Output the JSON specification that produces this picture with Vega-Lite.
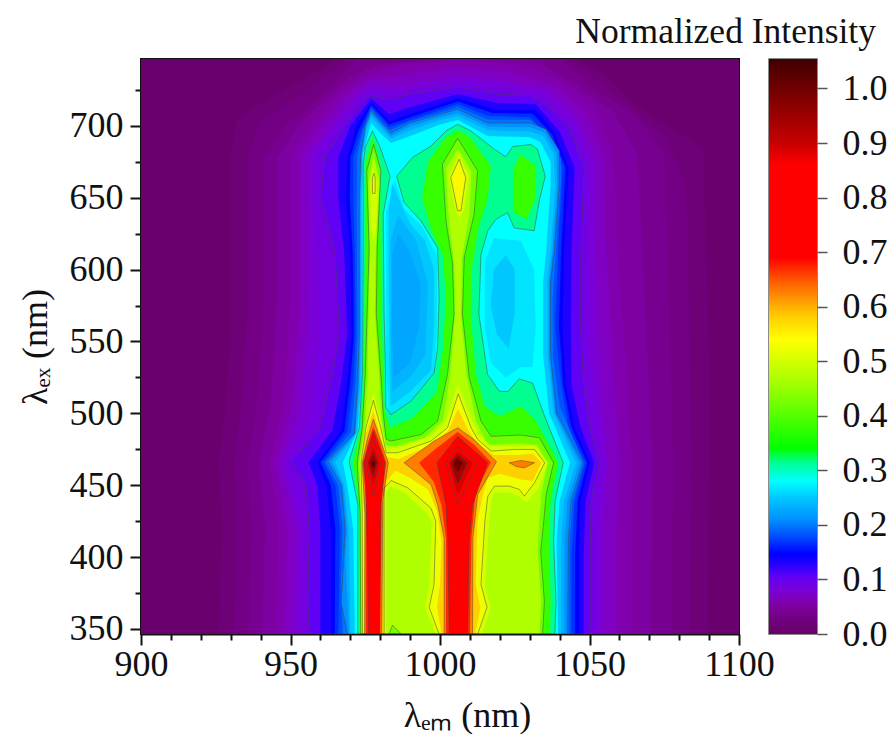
{"$schema":"https://vega.github.io/schema/vega-lite/v6.json","padding":{"left":16,"top":13,"right":0,"bottom":0},"background":"white","spacing":30,"bounds":"flush","config":{"font":"Liberation Serif"},"hconcat":[{"width":598,"height":575,"view":{"stroke":"#111","strokeWidth":2},"data":{"values":[
{"v":0.005,"r":1,"x":900,"y":346.5},{"v":0.005,"r":1,"x":1100,"y":346.5},{"v":0.005,"r":1,"x":1100,"y":746.5},{"v":0.005,"r":1,"x":900,"y":746.5},
{"v":0.02,"r":2,"x":926,"y":346.5},{"v":0.02,"r":2,"x":927,"y":420},{"v":0.02,"r":2,"x":926,"y":466},{"v":0.02,"r":2,"x":928,"y":500},{"v":0.02,"r":2,"x":930,"y":560},{"v":0.02,"r":2,"x":930,"y":680},{"v":0.02,"r":2,"x":932,"y":705},{"v":0.02,"r":2,"x":945,"y":722},{"v":0.02,"r":2,"x":958,"y":737},{"v":0.02,"r":2,"x":966,"y":746.5},{"v":0.02,"r":2,"x":1046,"y":746.5},{"v":0.02,"r":2,"x":1056,"y":735},{"v":0.02,"r":2,"x":1064,"y":717},{"v":0.02,"r":2,"x":1077,"y":699},{"v":0.02,"r":2,"x":1088,"y":685},{"v":0.02,"r":2,"x":1089,"y":620},{"v":0.02,"r":2,"x":1090,"y":540},{"v":0.02,"r":2,"x":1090,"y":466},{"v":0.02,"r":2,"x":1089.5,"y":346.5},
{"v":0.03,"r":46,"x":931,"y":346.5},{"v":0.03,"r":46,"x":932,"y":420},{"v":0.03,"r":46,"x":931,"y":466},{"v":0.03,"r":46,"x":933.5,"y":505},{"v":0.03,"r":46,"x":935.5,"y":570},{"v":0.03,"r":46,"x":935.5,"y":678},{"v":0.03,"r":46,"x":940,"y":703},{"v":0.03,"r":46,"x":951,"y":718},{"v":0.03,"r":46,"x":962,"y":735},{"v":0.03,"r":46,"x":969,"y":746.5},{"v":0.03,"r":46,"x":1043,"y":746.5},{"v":0.03,"r":46,"x":1054,"y":730},{"v":0.03,"r":46,"x":1064.5,"y":712},{"v":0.03,"r":46,"x":1076,"y":690},{"v":0.03,"r":46,"x":1082,"y":660},{"v":0.03,"r":46,"x":1083,"y":620},{"v":0.03,"r":46,"x":1083.5,"y":540},{"v":0.03,"r":46,"x":1084,"y":466},{"v":0.03,"r":46,"x":1083.5,"y":346.5},
{"v":0.04,"r":3,"x":936,"y":346.5},{"v":0.04,"r":3,"x":937,"y":420},{"v":0.04,"r":3,"x":935.7,"y":466},{"v":0.04,"r":3,"x":939,"y":510},{"v":0.04,"r":3,"x":941,"y":580},{"v":0.04,"r":3,"x":941,"y":676},{"v":0.04,"r":3,"x":948,"y":700},{"v":0.04,"r":3,"x":957,"y":714},{"v":0.04,"r":3,"x":966,"y":732},{"v":0.04,"r":3,"x":972,"y":746.5},{"v":0.04,"r":3,"x":1040,"y":746.5},{"v":0.04,"r":3,"x":1052,"y":725},{"v":0.04,"r":3,"x":1065,"y":708},{"v":0.04,"r":3,"x":1075,"y":680},{"v":0.04,"r":3,"x":1076,"y":620},{"v":0.04,"r":3,"x":1077,"y":540},{"v":0.04,"r":3,"x":1078,"y":466},{"v":0.04,"r":3,"x":1077.5,"y":346.5},
{"v":0.05,"r":47,"x":940.5,"y":346.5},{"v":0.05,"r":47,"x":941.5,"y":420},{"v":0.05,"r":47,"x":939.5,"y":466},{"v":0.05,"r":47,"x":943.5,"y":510},{"v":0.05,"r":47,"x":945.5,"y":580},{"v":0.05,"r":47,"x":945.5,"y":678},{"v":0.05,"r":47,"x":953,"y":702},{"v":0.05,"r":47,"x":961.5,"y":718},{"v":0.05,"r":47,"x":970,"y":734},{"v":0.05,"r":47,"x":980,"y":743},{"v":0.05,"r":47,"x":1006,"y":747},{"v":0.05,"r":47,"x":1032,"y":745},{"v":0.05,"r":47,"x":1046,"y":728},{"v":0.05,"r":47,"x":1058,"y":710},{"v":0.05,"r":47,"x":1066,"y":680},{"v":0.05,"r":47,"x":1067.5,"y":620},{"v":0.05,"r":47,"x":1069.5,"y":540},{"v":0.05,"r":47,"x":1071,"y":466},{"v":0.05,"r":47,"x":1070.5,"y":346.5},
{"v":0.06,"r":4,"x":945,"y":346.5},{"v":0.06,"r":4,"x":946,"y":420},{"v":0.06,"r":4,"x":943,"y":466},{"v":0.06,"r":4,"x":948,"y":510},{"v":0.06,"r":4,"x":950,"y":580},{"v":0.06,"r":4,"x":950,"y":680},{"v":0.06,"r":4,"x":958,"y":703},{"v":0.06,"r":4,"x":966,"y":722},{"v":0.06,"r":4,"x":975,"y":735},{"v":0.06,"r":4,"x":985,"y":742},{"v":0.06,"r":4,"x":1006,"y":746},{"v":0.06,"r":4,"x":1025,"y":743},{"v":0.06,"r":4,"x":1040,"y":732},{"v":0.06,"r":4,"x":1052,"y":712},{"v":0.06,"r":4,"x":1058,"y":680},{"v":0.06,"r":4,"x":1059,"y":620},{"v":0.06,"r":4,"x":1062,"y":540},{"v":0.06,"r":4,"x":1064,"y":466},{"v":0.06,"r":4,"x":1064,"y":346.5},
{"v":0.07,"r":48,"x":948,"y":346.5},{"v":0.07,"r":48,"x":949,"y":420},{"v":0.07,"r":48,"x":945,"y":466},{"v":0.07,"r":48,"x":950.5,"y":505},{"v":0.07,"r":48,"x":953,"y":570},{"v":0.07,"r":48,"x":953,"y":680},{"v":0.07,"r":48,"x":961.5,"y":704},{"v":0.07,"r":48,"x":969,"y":722},{"v":0.07,"r":48,"x":976,"y":732},{"v":0.07,"r":48,"x":985,"y":735},{"v":0.07,"r":48,"x":1006,"y":741},{"v":0.07,"r":48,"x":1022,"y":738},{"v":0.07,"r":48,"x":1038,"y":729},{"v":0.07,"r":48,"x":1049,"y":708},{"v":0.07,"r":48,"x":1055,"y":678},{"v":0.07,"r":48,"x":1055.5,"y":620},{"v":0.07,"r":48,"x":1057.5,"y":540},{"v":0.07,"r":48,"x":1060,"y":466},{"v":0.07,"r":48,"x":1059,"y":420},{"v":0.07,"r":48,"x":1059,"y":346.5},
{"v":0.08,"r":5,"x":951,"y":346.5},{"v":0.08,"r":5,"x":952,"y":420},{"v":0.08,"r":5,"x":947,"y":466},{"v":0.08,"r":5,"x":953,"y":500},{"v":0.08,"r":5,"x":956,"y":560},{"v":0.08,"r":5,"x":956,"y":680},{"v":0.08,"r":5,"x":965,"y":705},{"v":0.08,"r":5,"x":972,"y":722},{"v":0.08,"r":5,"x":977,"y":730},{"v":0.08,"r":5,"x":985,"y":727},{"v":0.08,"r":5,"x":1006,"y":735},{"v":0.08,"r":5,"x":1020,"y":732},{"v":0.08,"r":5,"x":1036,"y":725},{"v":0.08,"r":5,"x":1046,"y":705},{"v":0.08,"r":5,"x":1052,"y":675},{"v":0.08,"r":5,"x":1052,"y":620},{"v":0.08,"r":5,"x":1053,"y":540},{"v":0.08,"r":5,"x":1056,"y":466},{"v":0.08,"r":5,"x":1054.5,"y":420},{"v":0.08,"r":5,"x":1054.5,"y":346.5},
{"v":0.09,"r":49,"x":953.5,"y":346.5},{"v":0.09,"r":49,"x":954,"y":420},{"v":0.09,"r":49,"x":948.5,"y":466},{"v":0.09,"r":49,"x":956.5,"y":495},{"v":0.09,"r":49,"x":960,"y":558},{"v":0.09,"r":49,"x":958,"y":650},{"v":0.09,"r":49,"x":958.5,"y":680},{"v":0.09,"r":49,"x":966.5,"y":703},{"v":0.09,"r":49,"x":973.5,"y":720},{"v":0.09,"r":49,"x":977,"y":725},{"v":0.09,"r":49,"x":984,"y":722},{"v":0.09,"r":49,"x":1006,"y":731},{"v":0.09,"r":49,"x":1020,"y":727},{"v":0.09,"r":49,"x":1033,"y":723},{"v":0.09,"r":49,"x":1045,"y":700},{"v":0.09,"r":49,"x":1050,"y":673},{"v":0.09,"r":49,"x":1049.5,"y":620},{"v":0.09,"r":49,"x":1050,"y":540},{"v":0.09,"r":49,"x":1054.5,"y":466},{"v":0.09,"r":49,"x":1052.3,"y":420},{"v":0.09,"r":49,"x":1052.3,"y":346.5},
{"v":0.105,"r":6,"x":956.3,"y":346.5},{"v":0.105,"r":6,"x":955.8,"y":368},{"v":0.105,"r":6,"x":956.3,"y":419},{"v":0.105,"r":6,"x":955.2,"y":450},{"v":0.105,"r":6,"x":950.2,"y":466.7},{"v":0.105,"r":6,"x":959.7,"y":488.5},{"v":0.105,"r":6,"x":963.6,"y":522},{"v":0.105,"r":6,"x":966.4,"y":555},{"v":0.105,"r":6,"x":964.9,"y":611.5},{"v":0.105,"r":6,"x":960.2,"y":650},{"v":0.105,"r":6,"x":961.4,"y":678},{"v":0.105,"r":6,"x":968,"y":700},{"v":0.105,"r":6,"x":975,"y":718},{"v":0.105,"r":6,"x":977,"y":721},{"v":0.105,"r":6,"x":983,"y":718},{"v":0.105,"r":6,"x":990,"y":722},{"v":0.105,"r":6,"x":1006.4,"y":727},{"v":0.105,"r":6,"x":1019,"y":722},{"v":0.105,"r":6,"x":1030.4,"y":721},{"v":0.105,"r":6,"x":1036,"y":714},{"v":0.105,"r":6,"x":1043.8,"y":696.5},{"v":0.105,"r":6,"x":1048.2,"y":671},{"v":0.105,"r":6,"x":1047.1,"y":613},{"v":0.105,"r":6,"x":1047,"y":560},{"v":0.105,"r":6,"x":1048,"y":520},{"v":0.105,"r":6,"x":1050,"y":490},{"v":0.105,"r":6,"x":1053.3,"y":465.6},{"v":0.105,"r":6,"x":1050.5,"y":439},{"v":0.105,"r":6,"x":1050.2,"y":400},{"v":0.105,"r":6,"x":1050.2,"y":346.5},{"v":0.105,"r":6,"x":956.3,"y":346.5},
{"v":0.13,"r":7,"x":960,"y":346.5},{"v":0.13,"r":7,"x":960,"y":419},{"v":0.13,"r":7,"x":959,"y":450},{"v":0.13,"r":7,"x":956,"y":466},{"v":0.13,"r":7,"x":964,"y":488},{"v":0.13,"r":7,"x":967,"y":522},{"v":0.13,"r":7,"x":969,"y":555},{"v":0.13,"r":7,"x":968,"y":611},{"v":0.13,"r":7,"x":966,"y":650},{"v":0.13,"r":7,"x":966,"y":678},{"v":0.13,"r":7,"x":970,"y":700},{"v":0.13,"r":7,"x":977,"y":719},{"v":0.13,"r":7,"x":983,"y":708},{"v":0.13,"r":7,"x":990,"y":713},{"v":0.13,"r":7,"x":1006,"y":722},{"v":0.13,"r":7,"x":1019,"y":716},{"v":0.13,"r":7,"x":1032,"y":715},{"v":0.13,"r":7,"x":1040,"y":696},{"v":0.13,"r":7,"x":1045,"y":671},{"v":0.13,"r":7,"x":1044,"y":613},{"v":0.13,"r":7,"x":1043.8,"y":560},{"v":0.13,"r":7,"x":1044,"y":520},{"v":0.13,"r":7,"x":1047,"y":490},{"v":0.13,"r":7,"x":1051.6,"y":465.6},{"v":0.13,"r":7,"x":1048.7,"y":439},{"v":0.13,"r":7,"x":1048,"y":400},{"v":0.13,"r":7,"x":1048,"y":346.5},
{"v":0.147,"r":8,"x":963.5,"y":346.5},{"v":0.147,"r":8,"x":963.5,"y":419},{"v":0.147,"r":8,"x":962,"y":450},{"v":0.147,"r":8,"x":959,"y":466},{"v":0.147,"r":8,"x":967,"y":488},{"v":0.147,"r":8,"x":969,"y":522},{"v":0.147,"r":8,"x":970.5,"y":555},{"v":0.147,"r":8,"x":970,"y":611},{"v":0.147,"r":8,"x":968.5,"y":650},{"v":0.147,"r":8,"x":969,"y":678},{"v":0.147,"r":8,"x":972,"y":700},{"v":0.147,"r":8,"x":977,"y":716},{"v":0.147,"r":8,"x":983,"y":703},{"v":0.147,"r":8,"x":990,"y":708},{"v":0.147,"r":8,"x":1006,"y":719},{"v":0.147,"r":8,"x":1019,"y":711},{"v":0.147,"r":8,"x":1032,"y":711},{"v":0.147,"r":8,"x":1038,"y":696},{"v":0.147,"r":8,"x":1043,"y":671},{"v":0.147,"r":8,"x":1041.5,"y":613},{"v":0.147,"r":8,"x":1041,"y":560},{"v":0.147,"r":8,"x":1042,"y":520},{"v":0.147,"r":8,"x":1045,"y":490},{"v":0.147,"r":8,"x":1050,"y":465.6},{"v":0.147,"r":8,"x":1047,"y":439},{"v":0.147,"r":8,"x":1046.5,"y":400},{"v":0.147,"r":8,"x":1046.5,"y":346.5},
{"v":0.16,"r":50,"x":964.8,"y":346.5},{"v":0.16,"r":50,"x":965,"y":419},{"v":0.16,"r":50,"x":963.5,"y":450},{"v":0.16,"r":50,"x":960,"y":466},{"v":0.16,"r":50,"x":968,"y":487.5},{"v":0.16,"r":50,"x":970,"y":522},{"v":0.16,"r":50,"x":971.2,"y":555},{"v":0.16,"r":50,"x":970.8,"y":611},{"v":0.16,"r":50,"x":969.8,"y":650},{"v":0.16,"r":50,"x":970,"y":678},{"v":0.16,"r":50,"x":972.8,"y":697},{"v":0.16,"r":50,"x":977,"y":714.5},{"v":0.16,"r":50,"x":983,"y":701},{"v":0.16,"r":50,"x":990,"y":706},{"v":0.16,"r":50,"x":1006,"y":717},{"v":0.16,"r":50,"x":1017.5,"y":709},{"v":0.16,"r":50,"x":1031,"y":708.5},{"v":0.16,"r":50,"x":1037.5,"y":694},{"v":0.16,"r":50,"x":1042,"y":671},{"v":0.16,"r":50,"x":1040.5,"y":613},{"v":0.16,"r":50,"x":1039.8,"y":560},{"v":0.16,"r":50,"x":1041.2,"y":520},{"v":0.16,"r":50,"x":1044,"y":490},{"v":0.16,"r":50,"x":1049.2,"y":465.6},{"v":0.16,"r":50,"x":1046,"y":439},{"v":0.16,"r":50,"x":1045.2,"y":400},{"v":0.16,"r":50,"x":1045.2,"y":346.5},
{"v":0.18,"r":9,"x":966,"y":346.5},{"v":0.18,"r":9,"x":966.5,"y":419},{"v":0.18,"r":9,"x":965,"y":450},{"v":0.18,"r":9,"x":961,"y":466},{"v":0.18,"r":9,"x":969,"y":487},{"v":0.18,"r":9,"x":971,"y":522},{"v":0.18,"r":9,"x":971.8,"y":555},{"v":0.18,"r":9,"x":971.5,"y":611},{"v":0.18,"r":9,"x":971,"y":650},{"v":0.18,"r":9,"x":971,"y":678},{"v":0.18,"r":9,"x":973.5,"y":695},{"v":0.18,"r":9,"x":977,"y":713},{"v":0.18,"r":9,"x":983,"y":699},{"v":0.18,"r":9,"x":990,"y":704},{"v":0.18,"r":9,"x":1006,"y":715},{"v":0.18,"r":9,"x":1016,"y":707},{"v":0.18,"r":9,"x":1030,"y":706},{"v":0.18,"r":9,"x":1037,"y":692},{"v":0.18,"r":9,"x":1041,"y":671},{"v":0.18,"r":9,"x":1039.5,"y":613},{"v":0.18,"r":9,"x":1038.5,"y":560},{"v":0.18,"r":9,"x":1040.5,"y":520},{"v":0.18,"r":9,"x":1043,"y":490},{"v":0.18,"r":9,"x":1048.5,"y":465.6},{"v":0.18,"r":9,"x":1045,"y":439},{"v":0.18,"r":9,"x":1044,"y":400},{"v":0.18,"r":9,"x":1044,"y":346.5},
{"v":0.195,"r":51,"x":967.5,"y":346.5},{"v":0.195,"r":51,"x":966.8,"y":380},{"v":0.195,"r":51,"x":967.4,"y":419},{"v":0.195,"r":51,"x":966,"y":450},{"v":0.195,"r":51,"x":961.8,"y":466},{"v":0.195,"r":51,"x":970.2,"y":486.5},{"v":0.195,"r":51,"x":971.8,"y":522},{"v":0.195,"r":51,"x":972.4,"y":555},{"v":0.195,"r":51,"x":972.2,"y":650},{"v":0.195,"r":51,"x":972.3,"y":679},{"v":0.195,"r":51,"x":974.2,"y":697},{"v":0.195,"r":51,"x":977,"y":711.7},{"v":0.195,"r":51,"x":981,"y":701},{"v":0.195,"r":51,"x":983.3,"y":697},{"v":0.195,"r":51,"x":990,"y":703},{"v":0.195,"r":51,"x":1003,"y":711},{"v":0.195,"r":51,"x":1006,"y":713},{"v":0.195,"r":51,"x":1016,"y":704.5},{"v":0.195,"r":51,"x":1030.2,"y":704},{"v":0.195,"r":51,"x":1036.2,"y":695},{"v":0.195,"r":51,"x":1040.4,"y":677},{"v":0.195,"r":51,"x":1040.4,"y":660},{"v":0.195,"r":51,"x":1038.8,"y":613},{"v":0.195,"r":51,"x":1037.7,"y":580},{"v":0.195,"r":51,"x":1037.8,"y":540},{"v":0.195,"r":51,"x":1040,"y":505},{"v":0.195,"r":51,"x":1048,"y":465.6},{"v":0.195,"r":51,"x":1044.4,"y":439},{"v":0.195,"r":51,"x":1043.4,"y":411},{"v":0.195,"r":51,"x":1043.3,"y":346.5},
{"v":0.21,"r":10,"x":969,"y":346.5},{"v":0.21,"r":10,"x":967,"y":368},{"v":0.21,"r":10,"x":968.3,"y":419},{"v":0.21,"r":10,"x":967,"y":450},{"v":0.21,"r":10,"x":962.5,"y":466.7},{"v":0.21,"r":10,"x":971.4,"y":486},{"v":0.21,"r":10,"x":972.5,"y":522},{"v":0.21,"r":10,"x":973,"y":555},{"v":0.21,"r":10,"x":973,"y":650},{"v":0.21,"r":10,"x":973.5,"y":680},{"v":0.21,"r":10,"x":975,"y":700},{"v":0.21,"r":10,"x":977,"y":710.4},{"v":0.21,"r":10,"x":980,"y":703},{"v":0.21,"r":10,"x":983.6,"y":695},{"v":0.21,"r":10,"x":990,"y":702},{"v":0.21,"r":10,"x":1000,"y":708},{"v":0.21,"r":10,"x":1005.9,"y":711.6},{"v":0.21,"r":10,"x":1015.9,"y":702},{"v":0.21,"r":10,"x":1030.4,"y":702},{"v":0.21,"r":10,"x":1035.4,"y":697.7},{"v":0.21,"r":10,"x":1039.9,"y":682.6},{"v":0.21,"r":10,"x":1039.9,"y":659},{"v":0.21,"r":10,"x":1038.2,"y":613},{"v":0.21,"r":10,"x":1037,"y":592},{"v":0.21,"r":10,"x":1037,"y":540},{"v":0.21,"r":10,"x":1039,"y":500},{"v":0.21,"r":10,"x":1047.7,"y":465.6},{"v":0.21,"r":10,"x":1043.8,"y":439},{"v":0.21,"r":10,"x":1042.9,"y":411},{"v":0.21,"r":10,"x":1042.7,"y":346.5},{"v":0.21,"r":10,"x":969,"y":346.5},
{"v":0.23,"r":52,"x":969.5,"y":346.5},{"v":0.23,"r":52,"x":968.4,"y":400},{"v":0.23,"r":52,"x":968.9,"y":419},{"v":0.23,"r":52,"x":967.5,"y":450},{"v":0.23,"r":52,"x":963.8,"y":466.4},{"v":0.23,"r":52,"x":971.7,"y":486},{"v":0.23,"r":52,"x":972.9,"y":522},{"v":0.23,"r":52,"x":973.3,"y":555},{"v":0.23,"r":52,"x":973.3,"y":650},{"v":0.23,"r":52,"x":973.8,"y":680},{"v":0.23,"r":52,"x":975.3,"y":699},{"v":0.23,"r":52,"x":977,"y":708},{"v":0.23,"r":52,"x":980,"y":701},{"v":0.23,"r":52,"x":983.6,"y":693},{"v":0.23,"r":52,"x":990,"y":699.5},{"v":0.23,"r":52,"x":1000,"y":706},{"v":0.23,"r":52,"x":1006,"y":709},{"v":0.23,"r":52,"x":1016,"y":699.5},{"v":0.23,"r":52,"x":1030.2,"y":699},{"v":0.23,"r":52,"x":1035,"y":695.3},{"v":0.23,"r":52,"x":1039,"y":681},{"v":0.23,"r":52,"x":1039.2,"y":659},{"v":0.23,"r":52,"x":1037.6,"y":613},{"v":0.23,"r":52,"x":1036.5,"y":592},{"v":0.23,"r":52,"x":1036.5,"y":540},{"v":0.23,"r":52,"x":1038.5,"y":500},{"v":0.23,"r":52,"x":1046.6,"y":465.6},{"v":0.23,"r":52,"x":1042.6,"y":439},{"v":0.23,"r":52,"x":1041.7,"y":411},{"v":0.23,"r":52,"x":1041.6,"y":346.5},
{"v":0.25,"r":11,"x":970,"y":346.5},{"v":0.25,"r":11,"x":969.5,"y":419},{"v":0.25,"r":11,"x":968,"y":450},{"v":0.25,"r":11,"x":965,"y":466},{"v":0.25,"r":11,"x":972,"y":486},{"v":0.25,"r":11,"x":973.3,"y":522},{"v":0.25,"r":11,"x":973.6,"y":555},{"v":0.25,"r":11,"x":973.6,"y":650},{"v":0.25,"r":11,"x":974,"y":680},{"v":0.25,"r":11,"x":975.5,"y":698},{"v":0.25,"r":11,"x":977,"y":706},{"v":0.25,"r":11,"x":980,"y":699},{"v":0.25,"r":11,"x":983.6,"y":691},{"v":0.25,"r":11,"x":990,"y":697},{"v":0.25,"r":11,"x":1000,"y":704},{"v":0.25,"r":11,"x":1006,"y":707},{"v":0.25,"r":11,"x":1016,"y":697},{"v":0.25,"r":11,"x":1030,"y":696},{"v":0.25,"r":11,"x":1034.5,"y":693},{"v":0.25,"r":11,"x":1038,"y":680},{"v":0.25,"r":11,"x":1038.5,"y":659},{"v":0.25,"r":11,"x":1037,"y":613},{"v":0.25,"r":11,"x":1036,"y":592},{"v":0.25,"r":11,"x":1036,"y":540},{"v":0.25,"r":11,"x":1038,"y":500},{"v":0.25,"r":11,"x":1045.5,"y":465.6},{"v":0.25,"r":11,"x":1041.5,"y":439},{"v":0.25,"r":11,"x":1040.5,"y":411},{"v":0.25,"r":11,"x":1040.5,"y":346.5},
{"v":0.28,"r":12,"x":971.5,"y":346.5},{"v":0.28,"r":12,"x":971,"y":419},{"v":0.28,"r":12,"x":969,"y":450},{"v":0.28,"r":12,"x":967.5,"y":466},{"v":0.28,"r":12,"x":972.5,"y":488},{"v":0.28,"r":12,"x":973.8,"y":522},{"v":0.28,"r":12,"x":974,"y":555},{"v":0.28,"r":12,"x":974,"y":650},{"v":0.28,"r":12,"x":974.3,"y":680},{"v":0.28,"r":12,"x":976,"y":695},{"v":0.28,"r":12,"x":977,"y":702},{"v":0.28,"r":12,"x":980,"y":695},{"v":0.28,"r":12,"x":983.6,"y":688},{"v":0.28,"r":12,"x":990,"y":693},{"v":0.28,"r":12,"x":1000,"y":701},{"v":0.28,"r":12,"x":1006,"y":704},{"v":0.28,"r":12,"x":1016,"y":693},{"v":0.28,"r":12,"x":1030,"y":692},{"v":0.28,"r":12,"x":1033.5,"y":689},{"v":0.28,"r":12,"x":1037,"y":675},{"v":0.28,"r":12,"x":1037,"y":659},{"v":0.28,"r":12,"x":1035.5,"y":613},{"v":0.28,"r":12,"x":1034.5,"y":592},{"v":0.28,"r":12,"x":1034.5,"y":540},{"v":0.28,"r":12,"x":1036.5,"y":500},{"v":0.28,"r":12,"x":1043.5,"y":465.6},{"v":0.28,"r":12,"x":1040,"y":439},{"v":0.28,"r":12,"x":1039,"y":411},{"v":0.28,"r":12,"x":1039.5,"y":346.5},
{"v":0.265,"r":53,"x":983,"y":498},{"v":0.265,"r":53,"x":990,"y":507},{"v":0.265,"r":53,"x":998,"y":524},{"v":0.265,"r":53,"x":999,"y":560},{"v":0.265,"r":53,"x":999,"y":610},{"v":0.265,"r":53,"x":994,"y":630},{"v":0.265,"r":53,"x":988,"y":642},{"v":0.265,"r":53,"x":985,"y":662},{"v":0.265,"r":53,"x":982,"y":640},{"v":0.265,"r":53,"x":982,"y":530},
{"v":0.25,"r":13,"x":983.5,"y":505},{"v":0.25,"r":13,"x":990,"y":515},{"v":0.25,"r":13,"x":997,"y":530},{"v":0.25,"r":13,"x":998,"y":560},{"v":0.25,"r":13,"x":998,"y":600},{"v":0.25,"r":13,"x":995,"y":620},{"v":0.25,"r":13,"x":990,"y":632},{"v":0.25,"r":13,"x":986,"y":650},{"v":0.25,"r":13,"x":984,"y":660},{"v":0.25,"r":13,"x":982.8,"y":640},{"v":0.25,"r":13,"x":982.8,"y":600},{"v":0.25,"r":13,"x":983,"y":540},
{"v":0.235,"r":54,"x":984,"y":515},{"v":0.235,"r":54,"x":990,"y":525},{"v":0.235,"r":54,"x":995,"y":540},{"v":0.235,"r":54,"x":996,"y":590},{"v":0.235,"r":54,"x":992,"y":620},{"v":0.235,"r":54,"x":986,"y":638},{"v":0.235,"r":54,"x":983.5,"y":620},{"v":0.235,"r":54,"x":983.5,"y":550},
{"v":0.225,"r":14,"x":984.5,"y":525},{"v":0.225,"r":14,"x":990,"y":535},{"v":0.225,"r":14,"x":993,"y":560},{"v":0.225,"r":14,"x":993.5,"y":590},{"v":0.225,"r":14,"x":990,"y":612},{"v":0.225,"r":14,"x":986,"y":625},{"v":0.225,"r":14,"x":984,"y":610},{"v":0.225,"r":14,"x":984,"y":560},
{"v":0.265,"r":15,"x":1015,"y":560},{"v":0.265,"r":15,"x":1017,"y":535},{"v":0.265,"r":15,"x":1022,"y":525},{"v":0.265,"r":15,"x":1027,"y":532},{"v":0.265,"r":15,"x":1031,"y":532},{"v":0.265,"r":15,"x":1032,"y":560},{"v":0.265,"r":15,"x":1031.5,"y":600},{"v":0.265,"r":15,"x":1027,"y":620},{"v":0.265,"r":15,"x":1018,"y":622},{"v":0.265,"r":15,"x":1015,"y":605},
{"v":0.25,"r":16,"x":1017,"y":575},{"v":0.25,"r":16,"x":1019,"y":555},{"v":0.25,"r":16,"x":1023,"y":545},{"v":0.25,"r":16,"x":1025,"y":570},{"v":0.25,"r":16,"x":1025,"y":600},{"v":0.25,"r":16,"x":1022,"y":610},{"v":0.25,"r":16,"x":1018,"y":600},
{"v":0.315,"r":17,"x":972.5,"y":346.5},{"v":0.315,"r":17,"x":972.5,"y":436.6},{"v":0.315,"r":17,"x":969.6,"y":466.8},{"v":0.315,"r":17,"x":973,"y":490},{"v":0.315,"r":17,"x":974.1,"y":529},{"v":0.315,"r":17,"x":974.3,"y":620},{"v":0.315,"r":17,"x":974.3,"y":673},{"v":0.315,"r":17,"x":975,"y":685},{"v":0.315,"r":17,"x":977.4,"y":696.5},{"v":0.315,"r":17,"x":980,"y":685},{"v":0.315,"r":17,"x":983.3,"y":665},{"v":0.315,"r":17,"x":981,"y":638.6},{"v":0.315,"r":17,"x":981.3,"y":569},{"v":0.315,"r":17,"x":981.8,"y":529},{"v":0.315,"r":17,"x":981.9,"y":504},{"v":0.315,"r":17,"x":983.6,"y":499},{"v":0.315,"r":17,"x":990.3,"y":508.5},{"v":0.315,"r":17,"x":998,"y":528},{"v":0.315,"r":17,"x":999.2,"y":545.7},{"v":0.315,"r":17,"x":999.7,"y":580},{"v":0.315,"r":17,"x":999.2,"y":615},{"v":0.315,"r":17,"x":993.6,"y":634},{"v":0.315,"r":17,"x":988,"y":646.6},{"v":0.315,"r":17,"x":985.5,"y":665},{"v":0.315,"r":17,"x":990.8,"y":678},{"v":0.315,"r":17,"x":997,"y":686},{"v":0.315,"r":17,"x":1002,"y":696.5},{"v":0.315,"r":17,"x":1005.9,"y":701},{"v":0.315,"r":17,"x":1010.3,"y":696.5},{"v":0.315,"r":17,"x":1018,"y":684},{"v":0.315,"r":17,"x":1022,"y":678.4},{"v":0.315,"r":17,"x":1024.3,"y":685.6},{"v":0.315,"r":17,"x":1030.4,"y":687},{"v":0.315,"r":17,"x":1032.6,"y":683.7},{"v":0.315,"r":17,"x":1035.2,"y":665},{"v":0.315,"r":17,"x":1033.2,"y":648},{"v":0.315,"r":17,"x":1031.5,"y":627},{"v":0.315,"r":17,"x":1028.2,"y":628},{"v":0.315,"r":17,"x":1024.8,"y":629},{"v":0.315,"r":17,"x":1022.6,"y":639.6},{"v":0.315,"r":17,"x":1018.7,"y":635},{"v":0.315,"r":17,"x":1016,"y":627},{"v":0.315,"r":17,"x":1013.7,"y":610.6},{"v":0.315,"r":17,"x":1013,"y":569},{"v":0.315,"r":17,"x":1015.9,"y":527},{"v":0.315,"r":17,"x":1019.8,"y":515.5},{"v":0.315,"r":17,"x":1022.6,"y":515},{"v":0.315,"r":17,"x":1026.5,"y":524},{"v":0.315,"r":17,"x":1031,"y":521},{"v":0.315,"r":17,"x":1034.8,"y":499},{"v":0.315,"r":17,"x":1041.2,"y":465.6},{"v":0.315,"r":17,"x":1038.5,"y":439},{"v":0.315,"r":17,"x":1038,"y":411},{"v":0.315,"r":17,"x":1038.8,"y":369},{"v":0.315,"r":17,"x":1038.4,"y":346.5},{"v":0.315,"r":17,"x":972.5,"y":346.5},
{"v":0.36,"r":18,"x":973,"y":346.5},{"v":0.36,"r":18,"x":973,"y":436},{"v":0.36,"r":18,"x":971,"y":466},{"v":0.36,"r":18,"x":973.7,"y":490},{"v":0.36,"r":18,"x":974.6,"y":529},{"v":0.36,"r":18,"x":974.9,"y":620},{"v":0.36,"r":18,"x":975,"y":673},{"v":0.36,"r":18,"x":977.5,"y":692},{"v":0.36,"r":18,"x":980,"y":673},{"v":0.36,"r":18,"x":980.2,"y":600},{"v":0.36,"r":18,"x":980.4,"y":569},{"v":0.36,"r":18,"x":981,"y":529},{"v":0.36,"r":18,"x":981.5,"y":500},{"v":0.36,"r":18,"x":983.5,"y":490},{"v":0.36,"r":18,"x":991,"y":497},{"v":0.36,"r":18,"x":999,"y":515},{"v":0.36,"r":18,"x":1001,"y":545},{"v":0.36,"r":18,"x":1002,"y":580},{"v":0.36,"r":18,"x":1001,"y":610},{"v":0.36,"r":18,"x":997,"y":628},{"v":0.36,"r":18,"x":994,"y":650},{"v":0.36,"r":18,"x":996,"y":675},{"v":0.36,"r":18,"x":1002,"y":692},{"v":0.36,"r":18,"x":1006,"y":697},{"v":0.36,"r":18,"x":1010,"y":692},{"v":0.36,"r":18,"x":1017,"y":672},{"v":0.36,"r":18,"x":1016,"y":650},{"v":0.36,"r":18,"x":1013,"y":630},{"v":0.36,"r":18,"x":1010.5,"y":600},{"v":0.36,"r":18,"x":1010.3,"y":569},{"v":0.36,"r":18,"x":1012,"y":527},{"v":0.36,"r":18,"x":1015,"y":505},{"v":0.36,"r":18,"x":1020,"y":498},{"v":0.36,"r":18,"x":1027,"y":505},{"v":0.36,"r":18,"x":1032,"y":495},{"v":0.36,"r":18,"x":1039.5,"y":465.6},{"v":0.36,"r":18,"x":1037,"y":440},{"v":0.36,"r":18,"x":1036.5,"y":411},{"v":0.36,"r":18,"x":1037,"y":369},{"v":0.36,"r":18,"x":1036.8,"y":346.5},
{"v":0.36,"r":19,"x":1024.5,"y":640},{"v":0.36,"r":19,"x":1024.5,"y":670},{"v":0.36,"r":19,"x":1027,"y":680},{"v":0.36,"r":19,"x":1032,"y":672},{"v":0.36,"r":19,"x":1032,"y":650},{"v":0.36,"r":19,"x":1029,"y":635},
{"v":0.42,"r":20,"x":973.5,"y":346.5},{"v":0.42,"r":20,"x":973.3,"y":430},{"v":0.42,"r":20,"x":972.3,"y":465.6},{"v":0.42,"r":20,"x":974,"y":490},{"v":0.42,"r":20,"x":975,"y":527},{"v":0.42,"r":20,"x":976.3,"y":615},{"v":0.42,"r":20,"x":975.5,"y":668.7},{"v":0.42,"r":20,"x":977.8,"y":687},{"v":0.42,"r":20,"x":980.2,"y":668.7},{"v":0.42,"r":20,"x":979,"y":615},{"v":0.42,"r":20,"x":978.7,"y":569},{"v":0.42,"r":20,"x":980.2,"y":527},{"v":0.42,"r":20,"x":981,"y":500},{"v":0.42,"r":20,"x":982,"y":482},{"v":0.42,"r":20,"x":983.6,"y":480.7},{"v":0.42,"r":20,"x":993.7,"y":485.3},{"v":0.42,"r":20,"x":999.2,"y":494.6},{"v":0.42,"r":20,"x":1002.5,"y":527},{"v":0.42,"r":20,"x":1004.7,"y":569},{"v":0.42,"r":20,"x":1004.2,"y":603.7},{"v":0.42,"r":20,"x":1002,"y":633.8},{"v":0.42,"r":20,"x":1000.8,"y":673.3},{"v":0.42,"r":20,"x":1005.9,"y":691.4},{"v":0.42,"r":20,"x":1012.6,"y":668.7},{"v":0.42,"r":20,"x":1011.4,"y":638.5},{"v":0.42,"r":20,"x":1008.1,"y":608.3},{"v":0.42,"r":20,"x":1007.5,"y":569},{"v":0.42,"r":20,"x":1009.8,"y":524.8},{"v":0.42,"r":20,"x":1013.7,"y":494.6},{"v":0.42,"r":20,"x":1017.1,"y":484},{"v":0.42,"r":20,"x":1027.1,"y":484.9},{"v":0.42,"r":20,"x":1033.3,"y":483},{"v":0.42,"r":20,"x":1038,"y":465.6},{"v":0.42,"r":20,"x":1035.5,"y":443.5},{"v":0.42,"r":20,"x":1034.7,"y":425},{"v":0.42,"r":20,"x":1033.7,"y":404},{"v":0.42,"r":20,"x":1034.9,"y":369},{"v":0.42,"r":20,"x":1034.3,"y":346.5},{"v":0.42,"r":20,"x":973.5,"y":346.5},
{"v":0.47,"r":21,"x":973.8,"y":346.5},{"v":0.47,"r":21,"x":973.6,"y":430},{"v":0.47,"r":21,"x":973,"y":465.6},{"v":0.47,"r":21,"x":974.8,"y":490},{"v":0.47,"r":21,"x":975.8,"y":527},{"v":0.47,"r":21,"x":976.5,"y":615},{"v":0.47,"r":21,"x":976,"y":660},{"v":0.47,"r":21,"x":977.8,"y":680},{"v":0.47,"r":21,"x":979.8,"y":660},{"v":0.47,"r":21,"x":978.5,"y":615},{"v":0.47,"r":21,"x":978.2,"y":570},{"v":0.47,"r":21,"x":979.6,"y":527},{"v":0.47,"r":21,"x":980.3,"y":498},{"v":0.47,"r":21,"x":981.5,"y":478},{"v":0.47,"r":21,"x":985,"y":477},{"v":0.47,"r":21,"x":995,"y":483},{"v":0.47,"r":21,"x":1001,"y":495},{"v":0.47,"r":21,"x":1003.5,"y":527},{"v":0.47,"r":21,"x":1005,"y":569},{"v":0.47,"r":21,"x":1004.8,"y":603},{"v":0.47,"r":21,"x":1003,"y":634},{"v":0.47,"r":21,"x":1002,"y":670},{"v":0.47,"r":21,"x":1006,"y":684},{"v":0.47,"r":21,"x":1010.5,"y":668},{"v":0.47,"r":21,"x":1009.8,"y":638},{"v":0.47,"r":21,"x":1007.3,"y":608},{"v":0.47,"r":21,"x":1007,"y":569},{"v":0.47,"r":21,"x":1008.8,"y":527},{"v":0.47,"r":21,"x":1012,"y":495},{"v":0.47,"r":21,"x":1016,"y":478},{"v":0.47,"r":21,"x":1027,"y":479},{"v":0.47,"r":21,"x":1032.5,"y":478},{"v":0.47,"r":21,"x":1036,"y":465.6},{"v":0.47,"r":21,"x":1034,"y":445},{"v":0.47,"r":21,"x":1033.2,"y":425},{"v":0.47,"r":21,"x":1032.7,"y":404},{"v":0.47,"r":21,"x":1033.8,"y":369},{"v":0.47,"r":21,"x":1033.3,"y":346.5},
{"v":0.42,"r":22,"x":983,"y":346.5},{"v":0.42,"r":22,"x":984.1,"y":352.7},{"v":0.42,"r":22,"x":987,"y":346.5},{"v":0.42,"r":22,"x":983,"y":346.5},
{"v":0.5,"r":23,"x":973.9,"y":346.5},{"v":0.5,"r":23,"x":973.8,"y":430},{"v":0.5,"r":23,"x":973.2,"y":465.6},{"v":0.5,"r":23,"x":975,"y":490},{"v":0.5,"r":23,"x":977.7,"y":514},{"v":0.5,"r":23,"x":980.6,"y":492},{"v":0.5,"r":23,"x":982,"y":476},{"v":0.5,"r":23,"x":986,"y":476},{"v":0.5,"r":23,"x":997,"y":484},{"v":0.5,"r":23,"x":1002,"y":495},{"v":0.5,"r":23,"x":1006,"y":520},{"v":0.5,"r":23,"x":1010.8,"y":495},{"v":0.5,"r":23,"x":1013,"y":485},{"v":0.5,"r":23,"x":1017,"y":477.5},{"v":0.5,"r":23,"x":1025,"y":477},{"v":0.5,"r":23,"x":1032,"y":477.5},{"v":0.5,"r":23,"x":1036,"y":465.6},{"v":0.5,"r":23,"x":1033,"y":448},{"v":0.5,"r":23,"x":1029,"y":438},{"v":0.5,"r":23,"x":1026.6,"y":442},{"v":0.5,"r":23,"x":1023,"y":445},{"v":0.5,"r":23,"x":1018,"y":445},{"v":0.5,"r":23,"x":1017,"y":438},{"v":0.5,"r":23,"x":1016.5,"y":425},{"v":0.5,"r":23,"x":1015,"y":381},{"v":0.5,"r":23,"x":1017,"y":365},{"v":0.5,"r":23,"x":1014,"y":346.5},{"v":0.5,"r":23,"x":998.5,"y":346.5},{"v":0.5,"r":23,"x":995,"y":365},{"v":0.5,"r":23,"x":996.5,"y":381},{"v":0.5,"r":23,"x":997.2,"y":425},{"v":0.5,"r":23,"x":995.5,"y":431},{"v":0.5,"r":23,"x":988,"y":445},{"v":0.5,"r":23,"x":983.6,"y":449},{"v":0.5,"r":23,"x":982,"y":445},{"v":0.5,"r":23,"x":982,"y":346.5},
{"v":0.5,"r":24,"x":1006.3,"y":680},{"v":0.5,"r":24,"x":1003,"y":665},{"v":0.5,"r":24,"x":1005.3,"y":640},{"v":0.5,"r":24,"x":1006.5,"y":636},{"v":0.5,"r":24,"x":1008,"y":641},{"v":0.5,"r":24,"x":1009.7,"y":665},
{"v":0.5,"r":25,"x":977.6,"y":672},{"v":0.5,"r":25,"x":976.7,"y":660},{"v":0.5,"r":25,"x":977,"y":630},{"v":0.5,"r":25,"x":977.8,"y":620},{"v":0.5,"r":25,"x":978.7,"y":630},{"v":0.5,"r":25,"x":979,"y":660},
{"v":0.525,"r":26,"x":974.1,"y":346.5},{"v":0.525,"r":26,"x":974,"y":430},{"v":0.525,"r":26,"x":973.6,"y":465.6},{"v":0.525,"r":26,"x":975.2,"y":490},{"v":0.525,"r":26,"x":977.7,"y":509},{"v":0.525,"r":26,"x":980.2,"y":490},{"v":0.525,"r":26,"x":982,"y":472.6},{"v":0.525,"r":26,"x":985.8,"y":472.6},{"v":0.525,"r":26,"x":997,"y":480.7},{"v":0.525,"r":26,"x":1002.5,"y":490},{"v":0.525,"r":26,"x":1006.1,"y":513.6},{"v":0.525,"r":26,"x":1010.4,"y":490},{"v":0.525,"r":26,"x":1012.6,"y":481.8},{"v":0.525,"r":26,"x":1017.1,"y":473.7},{"v":0.525,"r":26,"x":1024.9,"y":474.9},{"v":0.525,"r":26,"x":1031.6,"y":474.9},{"v":0.525,"r":26,"x":1035,"y":465.6},{"v":0.525,"r":26,"x":1031.6,"y":451.7},{"v":0.525,"r":26,"x":1028.2,"y":442.4},{"v":0.525,"r":26,"x":1026.6,"y":447},{"v":0.525,"r":26,"x":1023.2,"y":449.4},{"v":0.525,"r":26,"x":1018.2,"y":449.4},{"v":0.525,"r":26,"x":1016,"y":442.4},{"v":0.525,"r":26,"x":1015,"y":425},{"v":0.525,"r":26,"x":1013.7,"y":381},{"v":0.525,"r":26,"x":1015.7,"y":365},{"v":0.525,"r":26,"x":1012.6,"y":346.5},{"v":0.525,"r":26,"x":999.7,"y":346.5},{"v":0.525,"r":26,"x":996.4,"y":365},{"v":0.525,"r":26,"x":998,"y":381},{"v":0.525,"r":26,"x":998.6,"y":425},{"v":0.525,"r":26,"x":997,"y":434},{"v":0.525,"r":26,"x":989.2,"y":448.2},{"v":0.525,"r":26,"x":983.6,"y":453.3},{"v":0.525,"r":26,"x":981.3,"y":448},{"v":0.525,"r":26,"x":981.3,"y":346.5},{"v":0.525,"r":26,"x":974.1,"y":346.5},
{"v":0.525,"r":27,"x":1006.4,"y":676.8},{"v":0.525,"r":27,"x":1003.6,"y":664},{"v":0.525,"r":27,"x":1005.9,"y":640.8},{"v":0.525,"r":27,"x":1007,"y":641},{"v":0.525,"r":27,"x":1008.6,"y":664},{"v":0.525,"r":27,"x":1006.4,"y":676.8},
{"v":0.525,"r":28,"x":977.4,"y":653},{"v":0.525,"r":28,"x":977.4,"y":664},{"v":0.525,"r":28,"x":977.9,"y":667},{"v":0.525,"r":28,"x":978.3,"y":664},{"v":0.525,"r":28,"x":978.3,"y":653},{"v":0.525,"r":28,"x":977.4,"y":653},
{"v":0.545,"r":29,"x":1006.3,"y":672},{"v":0.545,"r":29,"x":1004.5,"y":664},{"v":0.545,"r":29,"x":1006,"y":645},{"v":0.545,"r":29,"x":1007.8,"y":664},
{"v":0.58,"r":30,"x":974.5,"y":346.5},{"v":0.58,"r":30,"x":974.6,"y":430},{"v":0.58,"r":30,"x":973.8,"y":465.6},{"v":0.58,"r":30,"x":975,"y":485},{"v":0.58,"r":30,"x":977.7,"y":502},{"v":0.58,"r":30,"x":980,"y":485},{"v":0.58,"r":30,"x":981.8,"y":470},{"v":0.58,"r":30,"x":986,"y":468},{"v":0.58,"r":30,"x":997,"y":478},{"v":0.58,"r":30,"x":1002.8,"y":488},{"v":0.58,"r":30,"x":1006,"y":503},{"v":0.58,"r":30,"x":1009.5,"y":488},{"v":0.58,"r":30,"x":1012,"y":480},{"v":0.58,"r":30,"x":1018,"y":471},{"v":0.58,"r":30,"x":1026,"y":471},{"v":0.58,"r":30,"x":1031,"y":472},{"v":0.58,"r":30,"x":1034,"y":465.6},{"v":0.58,"r":30,"x":1031,"y":453},{"v":0.58,"r":30,"x":1027,"y":454},{"v":0.58,"r":30,"x":1020,"y":458},{"v":0.58,"r":30,"x":1016,"y":455},{"v":0.58,"r":30,"x":1014.5,"y":445},{"v":0.58,"r":30,"x":1012.5,"y":425},{"v":0.58,"r":30,"x":1012,"y":381},{"v":0.58,"r":30,"x":1013.5,"y":365},{"v":0.58,"r":30,"x":1011.8,"y":346.5},{"v":0.58,"r":30,"x":1000.5,"y":346.5},{"v":0.58,"r":30,"x":999,"y":365},{"v":0.58,"r":30,"x":1000,"y":381},{"v":0.58,"r":30,"x":1000.5,"y":410},{"v":0.58,"r":30,"x":999,"y":432},{"v":0.58,"r":30,"x":996,"y":447},{"v":0.58,"r":30,"x":990,"y":455},{"v":0.58,"r":30,"x":985,"y":460},{"v":0.58,"r":30,"x":982,"y":452},{"v":0.58,"r":30,"x":981.2,"y":440},{"v":0.58,"r":30,"x":981,"y":346.5},
{"v":0.63,"r":31,"x":974.8,"y":346.5},{"v":0.63,"r":31,"x":974.9,"y":430},{"v":0.63,"r":31,"x":974,"y":465.6},{"v":0.63,"r":31,"x":975.7,"y":482},{"v":0.63,"r":31,"x":977.7,"y":496},{"v":0.63,"r":31,"x":980,"y":482},{"v":0.63,"r":31,"x":982.7,"y":465.6},{"v":0.63,"r":31,"x":980.9,"y":440},{"v":0.63,"r":31,"x":980.5,"y":346.5},{"v":0.63,"r":31,"x":974.8,"y":346.5},
{"v":0.63,"r":32,"x":1001.4,"y":346.5},{"v":0.63,"r":32,"x":1001.4,"y":413},{"v":0.63,"r":32,"x":999.2,"y":436.6},{"v":0.63,"r":32,"x":997,"y":450.5},{"v":0.63,"r":32,"x":988,"y":465.6},{"v":0.63,"r":32,"x":998,"y":480.7},{"v":0.63,"r":32,"x":1005.9,"y":490},{"v":0.63,"r":32,"x":1011.4,"y":481.8},{"v":0.63,"r":32,"x":1018.9,"y":466.3},{"v":0.63,"r":32,"x":1012.6,"y":443.5},{"v":0.63,"r":32,"x":1011,"y":413},{"v":0.63,"r":32,"x":1010.9,"y":346.5},{"v":0.63,"r":32,"x":1001.4,"y":346.5},
{"v":0.63,"r":33,"x":1023.2,"y":465.6},{"v":0.63,"r":33,"x":1027.1,"y":467.2},{"v":0.63,"r":33,"x":1031.6,"y":465.6},{"v":0.63,"r":33,"x":1028.2,"y":462},{"v":0.63,"r":33,"x":1025.5,"y":463},{"v":0.63,"r":33,"x":1023.2,"y":465.6},
{"v":0.68,"r":34,"x":975.2,"y":346.5},{"v":0.68,"r":34,"x":975.2,"y":440},{"v":0.68,"r":34,"x":974.2,"y":465.6},{"v":0.68,"r":34,"x":976,"y":480},{"v":0.68,"r":34,"x":977.7,"y":491},{"v":0.68,"r":34,"x":979.8,"y":480},{"v":0.68,"r":34,"x":982,"y":465.6},{"v":0.68,"r":34,"x":980.5,"y":440},{"v":0.68,"r":34,"x":980,"y":346.5},
{"v":0.68,"r":35,"x":1002,"y":346.5},{"v":0.68,"r":35,"x":1002,"y":413},{"v":0.68,"r":35,"x":1000.5,"y":436},{"v":0.68,"r":35,"x":998,"y":452},{"v":0.68,"r":35,"x":993,"y":465.6},{"v":0.68,"r":35,"x":999,"y":476},{"v":0.68,"r":35,"x":1005.9,"y":487},{"v":0.68,"r":35,"x":1011.5,"y":478},{"v":0.68,"r":35,"x":1017,"y":466},{"v":0.68,"r":35,"x":1012,"y":446},{"v":0.68,"r":35,"x":1010.5,"y":413},{"v":0.68,"r":35,"x":1010,"y":346.5},
{"v":0.735,"r":36,"x":976,"y":346.5},{"v":0.735,"r":36,"x":975.8,"y":400},{"v":0.735,"r":36,"x":975.2,"y":448},{"v":0.735,"r":36,"x":974.5,"y":465.6},{"v":0.735,"r":36,"x":977.7,"y":487.6},{"v":0.735,"r":36,"x":981.6,"y":465.6},{"v":0.735,"r":36,"x":980.2,"y":436.6},{"v":0.735,"r":36,"x":979.7,"y":346.5},{"v":0.735,"r":36,"x":976,"y":346.5},
{"v":0.735,"r":37,"x":1003.1,"y":346.5},{"v":0.735,"r":37,"x":1002.6,"y":413},{"v":0.735,"r":37,"x":1002,"y":436.6},{"v":0.735,"r":37,"x":999,"y":465.6},{"v":0.735,"r":37,"x":1005.9,"y":484},{"v":0.735,"r":37,"x":1015.9,"y":465.6},{"v":0.735,"r":37,"x":1010.9,"y":436.6},{"v":0.735,"r":37,"x":1009.8,"y":413},{"v":0.735,"r":37,"x":1009.2,"y":346.5},{"v":0.735,"r":37,"x":1003.1,"y":346.5},
{"v":0.84,"r":38,"x":975.2,"y":465.6},{"v":0.84,"r":38,"x":977.7,"y":481.8},{"v":0.84,"r":38,"x":980.2,"y":465.6},{"v":0.84,"r":38,"x":977.7,"y":442.4},{"v":0.84,"r":38,"x":975.2,"y":465.6},
{"v":0.84,"r":39,"x":1002,"y":465.6},{"v":0.84,"r":39,"x":1005.9,"y":477},{"v":0.84,"r":39,"x":1012.6,"y":465.6},{"v":0.84,"r":39,"x":1005.9,"y":436.6},{"v":0.84,"r":39,"x":1002,"y":465.6},
{"v":0.89,"r":40,"x":975.8,"y":465.6},{"v":0.89,"r":40,"x":977.7,"y":477},{"v":0.89,"r":40,"x":979.7,"y":465.6},{"v":0.89,"r":40,"x":977.7,"y":449},
{"v":0.89,"r":41,"x":1003,"y":465.6},{"v":0.89,"r":41,"x":1005.9,"y":474},{"v":0.89,"r":41,"x":1011,"y":465.6},{"v":0.89,"r":41,"x":1005.9,"y":443},
{"v":0.945,"r":42,"x":976.1,"y":465.6},{"v":0.945,"r":42,"x":977.7,"y":472.6},{"v":0.945,"r":42,"x":979.1,"y":465.6},{"v":0.945,"r":42,"x":977.7,"y":456.3},{"v":0.945,"r":42,"x":976.1,"y":465.6},
{"v":0.945,"r":43,"x":1003.6,"y":465.6},{"v":0.945,"r":43,"x":1005.9,"y":471.4},{"v":0.945,"r":43,"x":1009.2,"y":465.6},{"v":0.945,"r":43,"x":1005.9,"y":450.5},{"v":0.945,"r":43,"x":1003.6,"y":465.6},
{"v":1.0,"r":44,"x":976.9,"y":465.6},{"v":1.0,"r":44,"x":977.7,"y":468},{"v":1.0,"r":44,"x":978.5,"y":465.6},{"v":1.0,"r":44,"x":977.7,"y":461},
{"v":1.0,"r":45,"x":1004.5,"y":465.6},{"v":1.0,"r":45,"x":1005.9,"y":469},{"v":1.0,"r":45,"x":1007.7,"y":465.6},{"v":1.0,"r":45,"x":1005.9,"y":459}
]},"encoding":{"x":{"field":"x","type":"quantitative","scale":{"domain":[900,1100],"nice":false,"zero":false},"axis":{"title":"λₑₘ (nm)","titleFontSize":36,"titleFontWeight":"normal","titleColor":"#111","titlePadding":16,"titleX":326,"values":[900,910,920,930,940,950,960,970,980,990,1000,1010,1020,1030,1040,1050,1060,1070,1080,1090,1100],"labelExpr":"datum.value % 50 === 0 ? datum.label : ''","labelFontSize":36,"labelColor":"#111","labelOverlap":false,"labelBound":false,"labelFlush":false,"labelPadding":2,"tickColor":"#111","tickWidth":2,"tickSize":{"condition":{"test":"datum.value % 50 === 0","value":11},"value":6},"domainColor":"#111","domainWidth":2,"grid":false,"format":"d"}},"y":{"field":"y","type":"quantitative","scale":{"domain":[346.5,746.5],"nice":false,"zero":false},"axis":{"title":"λₑₓ (nm)","titleFontSize":36,"titleFontWeight":"normal","titleColor":"#111","titlePadding":15,"values":[350,375,400,425,450,475,500,525,550,575,600,625,650,675,700,725],"labelExpr":"datum.value % 50 === 0 ? datum.label : ''","labelFontSize":36,"labelColor":"#111","labelOverlap":false,"labelBound":false,"labelFlush":false,"labelPadding":7,"tickColor":"#111","tickWidth":2,"tickSize":{"condition":{"test":"datum.value % 50 === 0","value":11},"value":6},"domainColor":"#111","domainWidth":2,"grid":false,"format":"d"}},"detail":{"field":"r","type":"nominal"},"order":{"value":null}},"layer":[{"mark":{"type":"line","clip":true,"stroke":null},"encoding":{"fill":{"field":"v","type":"quantitative","legend":null,"scale":{"domain":[0,0.02,0.04,0.06,0.08,0.105,0.13,0.147,0.18,0.21,0.25,0.28,0.315,0.34,0.42,0.47,0.525,0.54,0.58,0.6,0.65,0.69,0.86,0.9,1.0,1.054],"range":["#68006a","#6e0078","#780090","#8000b0","#7a00d8","#6000f4","#2000ff","#0000ff","#0050ff","#0090ff","#00c8ff","#00ffff","#00ff90","#00ff00","#70ff00","#b0ff00","#f0ff00","#ffff00","#ffd000","#ffb000","#ff5500","#ff0000","#ff0000","#c80000","#700000","#400000"]}}}},{"transform":[{"filter":{"field":"v","oneOf":[0.105,0.21,0.315,0.42,0.525,0.63,0.735,0.84,0.945]}}],"mark":{"type":"line","clip":true,"stroke":"#444444","strokeWidth":0.9,"opacity":0.55}}]},{"width":48,"height":575,"view":{"stroke":"#666666","strokeWidth":1.5},"title":{"text":"Normalized Intensity","frame":"group","anchor":"end","align":"right","fontSize":35.5,"fontWeight":"normal","color":"#111","dx":59,"offset":9},"data":{"values":[{"a":0,"b":1.054}]},"mark":{"type":"rect","fill":{"gradient":"linear","x1":0,"y1":1,"x2":0,"y2":0,"stops":[{"offset":0,"color":"#68006a"},{"offset":0.019,"color":"#6e0078"},{"offset":0.038,"color":"#780090"},{"offset":0.057,"color":"#8000b0"},{"offset":0.076,"color":"#7a00d8"},{"offset":0.0996,"color":"#6000f4"},{"offset":0.1233,"color":"#2000ff"},{"offset":0.1395,"color":"#0000ff"},{"offset":0.1708,"color":"#0050ff"},{"offset":0.1992,"color":"#0090ff"},{"offset":0.2372,"color":"#00c8ff"},{"offset":0.2657,"color":"#00ffff"},{"offset":0.2989,"color":"#00ff90"},{"offset":0.3226,"color":"#00ff00"},{"offset":0.3985,"color":"#70ff00"},{"offset":0.4459,"color":"#b0ff00"},{"offset":0.4981,"color":"#f0ff00"},{"offset":0.5123,"color":"#ffff00"},{"offset":0.5503,"color":"#ffd000"},{"offset":0.5693,"color":"#ffb000"},{"offset":0.6167,"color":"#ff5500"},{"offset":0.6546,"color":"#ff0000"},{"offset":0.8159,"color":"#ff0000"},{"offset":0.8539,"color":"#c80000"},{"offset":0.9488,"color":"#700000"},{"offset":1,"color":"#400000"}]}},"encoding":{"y":{"field":"a","type":"quantitative","scale":{"domain":[0,1.054],"nice":false,"zero":false},"axis":{"orient":"right","title":null,"values":[0,0.1,0.2,0.3,0.4,0.5,0.6,0.7,0.8,0.9,1.0],"format":".1f","labelFontSize":36,"labelColor":"#111","labelBound":false,"labelFlush":false,"labelOverlap":false,"labelPadding":15,"tickColor":"#555","tickWidth":1.5,"tickSize":10,"domain":false,"grid":false}},"y2":{"field":"b"}}}]}
